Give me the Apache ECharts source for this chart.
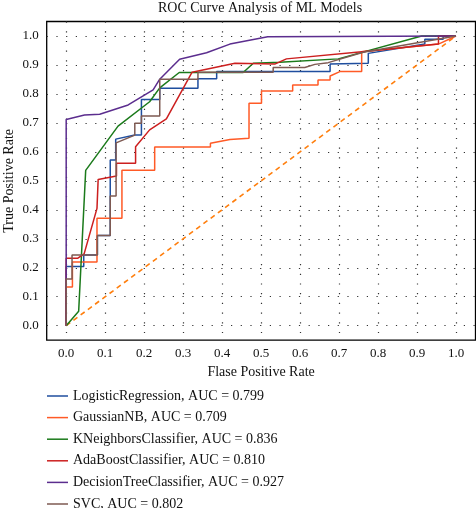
<!DOCTYPE html>
<html>
<head>
<meta charset="utf-8">
<script src="https://cdn.jsdelivr.net/npm/echarts@6/dist/echarts.min.js"></script>
<style>html,body{margin:0;padding:0;background:#fff;}#c{width:476px;height:508px;}</style>
</head>
<body>
<div id="c"></div>
<script>
const seriesNames = ['LogisticRegression, AUC = 0.799','GaussianNB, AUC = 0.709','KNeighborsClassifier, AUC = 0.836','AdaBoostClassifier, AUC = 0.810','DecisionTreeClassifier, AUC = 0.927','SVC, AUC = 0.802'];
const tickValues = [0,0.1,0.2,0.3,0.4,0.5,0.6,0.7,0.8,0.9,1.0];

const lrFpr = [0,0,0.045,0.045,0.080,0.080,0.113,0.113,0.127,0.127,0.176,0.193,0.193,0.240,0.240,0.338,0.338,0.386,0.386,0.677,0.677,0.775,0.775,0.920,0.920,0.967,0.967,1];
const lrTpr = [0,0.204,0.204,0.244,0.244,0.311,0.311,0.572,0.572,0.644,0.658,0.658,0.781,0.781,0.820,0.820,0.852,0.852,0.877,0.877,0.903,0.906,0.940,0.972,0.989,0.989,1,1];

const gnbFpr = [0,0,0.016,0.016,0.079,0.079,0.143,0.143,0.227,0.227,0.370,0.370,0.420,0.469,0.469,0.501,0.501,0.581,0.581,0.646,0.646,0.677,0.677,0.702,0.758,0.758,0.955,1];
const gnbTpr = [0,0.134,0.134,0.220,0.220,0.371,0.371,0.537,0.537,0.617,0.617,0.630,0.643,0.647,0.768,0.768,0.810,0.810,0.831,0.831,0.848,0.848,0.862,0.877,0.877,0.946,0.972,1];

const knnFpr = [0,0.032,0.050,0.133,0.214,0.240,0.290,0.454,0.480,0.548,0.698,0.912,1];
const knnTpr = [0,0.050,0.536,0.689,0.773,0.821,0.874,0.874,0.906,0.909,0.921,1,1];

const adaFpr = [0,0,0.030,0.046,0.079,0.082,0.129,0.129,0.178,0.178,0.214,0.257,0.323,0.433,0.535,0.565,0.758,0.955,0.955,1];
const adaTpr = [0,0.233,0.233,0.248,0.405,0.505,0.517,0.561,0.561,0.618,0.676,0.714,0.875,0.906,0.903,0.921,0.946,0.972,1,1];

const dtFpr = [0,0,0.047,0.086,0.159,0.223,0.240,0.291,0.360,0.420,0.517,1];
const dtTpr = [0,0.712,0.727,0.730,0.762,0.814,0.851,0.920,0.942,0.972,0.997,1];

const svcFpr = [0,0,0.015,0.015,0.080,0.080,0.113,0.113,0.128,0.128,0.176,0.176,0.193,0.193,0.240,0.240,0.338,0.338,0.531,0.531,0.612,0.638,0.672,0.762,0.942,1];
const svcTpr = [0,0.161,0.161,0.244,0.244,0.311,0.311,0.448,0.448,0.631,0.658,0.699,0.699,0.724,0.724,0.851,0.851,0.875,0.875,0.891,0.891,0.902,0.908,0.944,0.986,1];

const chanceFpr = [0,1];
const chanceTpr = [0,1];

const colors = ['#1f4e9e','#ff5a26','#1b7a1b','#cc1f1f','#5b2d8e','#7e5a52'];
const curves = [[lrFpr,lrTpr],[gnbFpr,gnbTpr],[knnFpr,knnTpr],[adaFpr,adaTpr],[dtFpr,dtTpr],[svcFpr,svcTpr]];

function zip(a,b){ return a.map((v,i)=>[v,b[i]]); }
const FONT = 'Liberation Serif';

const series = [{
  name: 'chance', type: 'line', data: zip(chanceFpr, chanceTpr), symbol: 'none',
  lineStyle: {color: '#ff7f0e', width: 1.6, type: [5, 4]}, silent: true, z: 1
}];
curves.forEach((c,i)=>{
  series.push({
    name: seriesNames[i], type: 'line', data: zip(c[0], c[1]), symbol: 'none',
    lineStyle: {color: colors[i], width: 1.5}, itemStyle: {color: colors[i]}, z: 2 + i, clip: false
  });
});

const axisCommon = {
  type: 'value', min: -0.05, max: 1.05,
  axisLine: {show: false},
  axisTick: {show: false, customValues: tickValues},
  axisLabel: {customValues: tickValues, formatter: v => v.toFixed(1), color: '#111', fontFamily: FONT, fontSize: 13},
  splitLine: {show: true, lineStyle: {color: '#333', width: 1.2, type: [1.2, 8.5]}},
  nameLocation: 'middle',
  nameMoveOverlap: false,
  nameTextStyle: {color: '#111', fontFamily: FONT, fontSize: 14}
};

const chart = echarts.init(document.getElementById('c'));
chart.setOption({
  animation: false,
  backgroundColor: '#fff',
  title: {text: 'ROC Curve Analysis of ML Models', left: 158, top: 1, padding: 0,
    textStyle: {fontFamily: FONT, fontSize: 14, fontWeight: 'normal', color: '#111'}},
  grid: {left: 46.7, right: 0.5, top: 21.5, bottom: 167.8, show: true, borderColor: '#000', borderWidth: 1.3,
    containLabel: false, outerBoundsMode: 'none'},
  xAxis: Object.assign({}, axisCommon, {name: 'Flase Positive Rate', nameGap: 25,
    axisLabel: Object.assign({}, axisCommon.axisLabel, {margin: 7})}),
  yAxis: Object.assign({}, axisCommon, {name: 'True Positive Rate', nameGap: 30,
    axisLabel: Object.assign({}, axisCommon.axisLabel, {margin: 8})}),
  legend: {
    data: seriesNames, orient: 'vertical', left: 47, top: 388, height: 125, padding: 0,
    icon: 'rect', itemWidth: 21, itemHeight: 1.5, itemGap: 5.6,
    textStyle: {fontFamily: FONT, fontSize: 14, color: '#111', lineHeight: 16}
  },
  series: series
});
</script>
</body>
</html>
